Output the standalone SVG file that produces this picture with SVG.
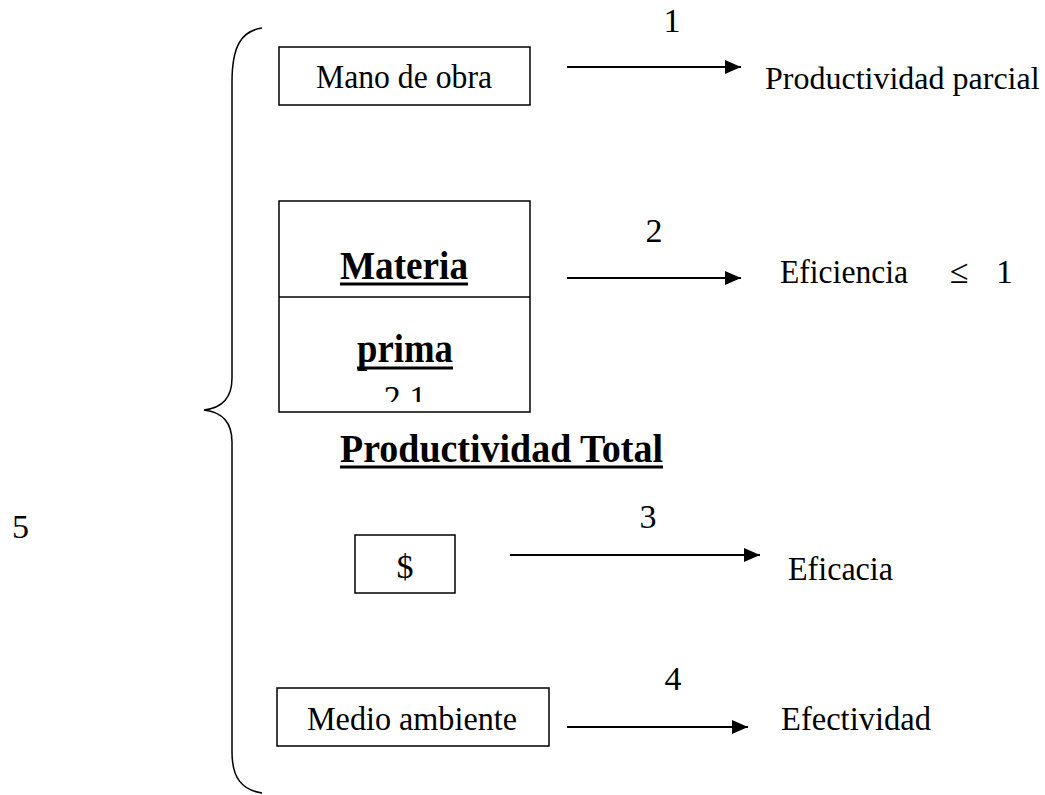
<svg xmlns="http://www.w3.org/2000/svg" width="1045" height="795" viewBox="0 0 1045 795">
<defs>
<style>
.t{font-family:"Liberation Serif","Times New Roman",serif;font-size:34px;fill:#000}
.b{font-family:"Liberation Serif","Times New Roman",serif;font-size:40px;font-weight:bold;fill:#000}
.box{fill:#fff;stroke:#000;stroke-width:1.5}
.ul{stroke:#000;stroke-width:3}
.arr{stroke:#000;stroke-width:2;fill:none;marker-end:url(#ah)}
</style>
<marker id="ah" viewBox="0 0 16 14" refX="16" refY="7" markerWidth="16" markerHeight="14" markerUnits="userSpaceOnUse" orient="auto">
<path d="M0 0 L16 7 L0 14 Z" fill="#000"/>
</marker>
<clipPath id="clip21"><rect x="279" y="370" width="251" height="32"/></clipPath>
</defs>
<rect width="1045" height="795" fill="#fff"/>
<g id="brace">
<path d="M262 28 C242 31 232 45 232 82 L232 378 C232 398 222 408 204 410 C222 412 232 422 232 442 L232 752 C232 778 242 790 262 793" fill="none" stroke="#000" stroke-width="1.5"/>
<text class="t" x="12" y="538">5</text>
</g>
<g id="mano">
<rect class="box" x="279" y="47" width="251" height="58"/>
<text class="t" x="316" y="88" textLength="176" lengthAdjust="spacingAndGlyphs">Mano de obra</text>
</g>
<g id="materia">
<rect class="box" x="279" y="201" width="251" height="211"/>
<line x1="279" y1="297" x2="530" y2="297" stroke="#000" stroke-width="1.5"/>
<text class="b" x="340" y="279" textLength="128" lengthAdjust="spacingAndGlyphs">Materia</text>
<line class="ul" x1="340" y1="284" x2="468" y2="284"/>
<text class="b" x="357" y="362" textLength="96" lengthAdjust="spacingAndGlyphs">prima</text>
<line class="ul" x1="357" y1="368" x2="453" y2="368"/>
<text class="t" x="405" y="409" text-anchor="middle" clip-path="url(#clip21)">2.1</text>
</g>
<g id="total">
<text class="b" x="340" y="462" textLength="323" lengthAdjust="spacingAndGlyphs">Productividad Total</text>
<line class="ul" x1="340" y1="467" x2="663" y2="467"/>
</g>
<g id="dinero">
<rect class="box" x="355" y="535" width="100" height="58"/>
<text class="t" x="405" y="578" text-anchor="middle">$</text>
</g>
<g id="medio">
<rect class="box" x="277" y="688" width="272" height="58"/>
<text class="t" x="307" y="730" textLength="210" lengthAdjust="spacingAndGlyphs">Medio ambiente</text>
</g>
<g id="results">
<text class="t" x="765" y="89" style="font-size:32px">Productividad parcial</text>
<text class="t" x="780" y="283" textLength="128" lengthAdjust="spacingAndGlyphs">Eficiencia</text>
<text class="t" x="950" y="283">≤</text>
<text class="t" x="996" y="283">1</text>
<text class="t" x="788" y="580" textLength="105" lengthAdjust="spacingAndGlyphs">Eficacia</text>
<text class="t" x="781" y="730" textLength="150" lengthAdjust="spacingAndGlyphs">Efectividad</text>
</g>
<g id="connectors">
<line class="arr" x1="567" y1="67" x2="741" y2="67"/>
<text class="t" x="672" y="32" text-anchor="middle">1</text>
<line class="arr" x1="567" y1="278" x2="741" y2="278"/>
<text class="t" x="654" y="242" text-anchor="middle">2</text>
<line class="arr" x1="510" y1="555" x2="760" y2="555"/>
<text class="t" x="648" y="528" text-anchor="middle">3</text>
<line class="arr" x1="567" y1="727" x2="748" y2="727"/>
<text class="t" x="673" y="690" text-anchor="middle">4</text>
</g>
</svg>
